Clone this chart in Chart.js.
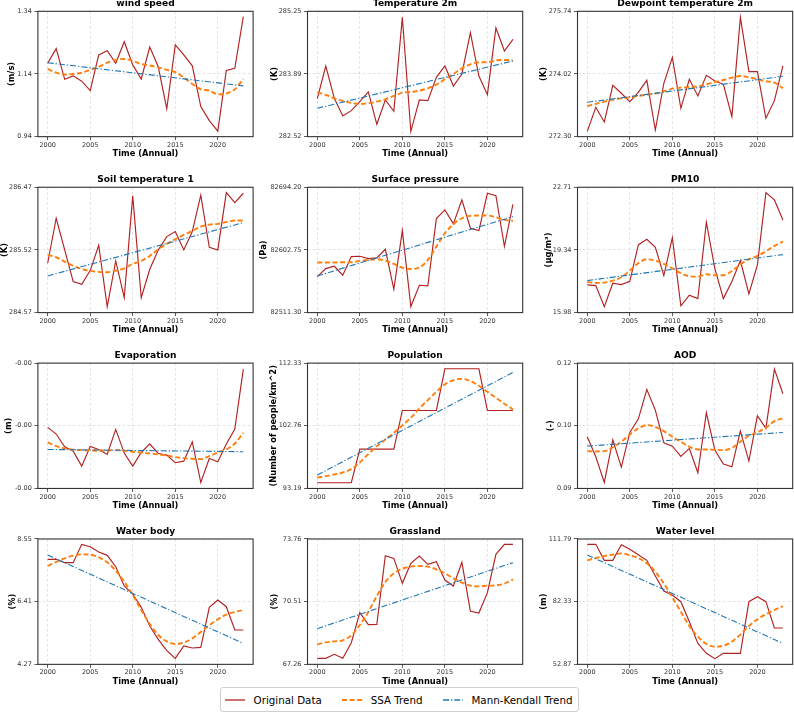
<!DOCTYPE html>
<html><head><meta charset="utf-8">
<script src="https://cdn.jsdelivr.net/npm/chart.js@4.4.0/dist/chart.umd.min.js"></script>
<style>
html,body{margin:0;padding:0;background:#fff;width:794px;height:718px;overflow:hidden;position:relative;font-family:'DejaVu Sans',sans-serif;}
canvas{position:absolute;}
#legend{position:absolute;left:220px;top:687px;width:353px;height:23px;border:1px solid #cfcfcf;border-radius:3px;background:#fff;display:flex;align-items:center;padding:0 0 0 4px;box-sizing:content-box;font-size:10.3px;color:#000;}
#legend .it{display:flex;align-items:center;margin-right:20.4px;white-space:nowrap;}
#legend .it:last-child{margin-right:0;}
#legend svg{margin-right:8.2px;}
</style></head><body>
<div id="legend"></div>
<script>
// ---------- data ----------
const years = [2000,2001,2002,2003,2004,2005,2006,2007,2008,2009,2010,2011,2012,2013,2014,2015,2016,2017,2018,2019,2020,2021,2022,2023];
const xTickValues = [2000,2005,2010,2015,2020];
const seriesNames = ['Original Data','SSA Trend','Mann-Kendall Trend'];

const windSpeed    = [1.174,1.221,1.123,1.134,1.117,1.087,1.201,1.214,1.174,1.243,1.169,1.124,1.226,1.163,1.029,1.233,1.201,1.166,1.036,0.991,0.958,1.151,1.158,1.323];
const windSpeedSSA = [1.156,1.144,1.138,1.140,1.144,1.153,1.163,1.176,1.185,1.188,1.182,1.172,1.167,1.161,1.153,1.146,1.129,1.108,1.091,1.087,1.075,1.078,1.091,1.124];
const windSpeedMK  = [1.176,1.102];
const windSpeedLim = [0.94,1.34];
const windSpeedTicks = ['0.94','1.14','1.34'];

const temp2m    = [283.348,284.059,283.355,282.970,283.086,283.282,283.493,282.789,283.319,283.072,285.119,282.636,283.319,283.304,283.812,284.059,283.624,283.885,284.785,283.841,283.435,284.887,284.386,284.640];
const temp2mSSA = [283.486,283.428,283.355,283.297,283.253,283.232,283.246,283.282,283.333,283.406,283.478,283.493,283.522,283.573,283.653,283.769,283.885,284.008,284.096,284.139,284.139,284.183,284.190,284.176];
const temp2mMK  = [283.137,284.168];
const temp2mLim = [282.52,285.25];
const temp2mTicks = ['282.52','283.89','285.25'];

const dew2m    = [272.446,273.105,272.703,273.709,273.490,273.261,273.517,273.846,272.483,273.764,274.477,273.078,273.874,273.416,273.983,273.828,273.736,272.849,275.575,274.084,274.084,272.804,273.288,274.240];
const dew2mSSA = [273.142,273.197,273.261,273.316,273.352,273.380,273.416,273.453,273.480,273.544,273.617,273.645,273.663,273.681,273.736,273.800,273.855,273.919,273.965,273.928,273.874,273.819,273.782,273.627];
const dew2mMK  = [273.242,273.956];
const dew2mLim = [272.30,275.74];
const dew2mTicks = ['272.30','274.02','275.74'];

const soilT    = [285.318,286.000,285.520,285.040,285.000,285.207,285.591,284.661,285.353,284.797,286.339,284.797,285.227,285.520,285.722,285.798,285.520,285.798,286.349,285.561,285.520,286.389,286.238,286.379];
const soilTSSA = [285.444,285.409,285.343,285.277,285.232,285.202,285.187,285.182,285.207,285.242,285.308,285.353,285.429,285.530,285.611,285.682,285.747,285.808,285.874,285.904,285.914,285.944,285.965,285.965];
const soilTMK  = [285.126,285.934];
const soilTLim = [284.57,286.47];
const soilTTicks = ['284.57','285.52','286.47'];

const pressure    = [82563.8,82575.5,82578.9,82565.8,82593.0,82593.5,82590.1,82591.1,82603.7,82545.3,82631.0,82520.1,82551.2,82550.2,82648.5,82661.1,82640.7,82675.7,82634.4,82631.0,82685.4,82682.0,82608.1,82669.4];
const pressureSSA = [82584.3,82584.3,82584.3,82584.8,82584.8,82586.7,82588.2,82589.1,82587.2,82582.3,82576.9,82575.0,82576.9,82588.2,82607.6,82627.1,82640.2,82649.0,82652.4,82652.9,82652.9,82650.4,82646.5,82645.1];
const pressureMK  = [82564.8,82651.4];
const pressureLim = [82511.30,82694.20];
const pressureTicks = ['82511.30','82602.75','82694.20'];

const pm10    = [17.466,17.430,16.302,17.555,17.484,17.662,19.613,19.918,19.488,17.967,20.007,16.338,16.911,16.732,20.831,18.343,16.732,17.645,18.772,16.982,18.539,22.424,22.030,20.956];
const pm10SSA = [17.627,17.573,17.591,17.698,17.877,18.235,18.629,18.844,18.772,18.593,18.361,18.092,17.931,17.913,18.038,17.985,17.985,18.217,18.557,18.844,19.023,19.273,19.560,19.793];
const pm10MK  = [17.698,19.094];
const pm10Lim = [15.98,22.71];
const pm10Ticks = ['15.98','19.34','22.71'];

const evap    = [-0.001113,-0.001166,-0.001268,-0.001302,-0.001422,-0.001265,-0.001289,-0.001329,-0.001129,-0.001318,-0.001422,-0.001313,-0.001244,-0.001321,-0.001334,-0.001395,-0.001382,-0.001228,-0.001552,-0.001361,-0.001387,-0.001246,-0.001127,-0.000648];
const evapSSA = [-0.001233,-0.001262,-0.001281,-0.001291,-0.001294,-0.001297,-0.001299,-0.001297,-0.001294,-0.001299,-0.001307,-0.001315,-0.001321,-0.001329,-0.001337,-0.001350,-0.001358,-0.001363,-0.001366,-0.001342,-0.001313,-0.001289,-0.001241,-0.001156];
const evapMK  = [-0.001289,-0.001307];
const evapLim = [-0.0016,-0.0006];
const evapTicks = ['-0.00','-0.00','-0.00'];

const population    = [94.06,94.06,94.06,94.06,94.06,99.20,99.20,99.20,99.20,99.20,105.10,105.10,105.10,105.10,105.10,111.46,111.46,111.46,111.46,111.46,105.10,105.10,105.10,105.10];
const populationSSA = [94.87,95.07,95.33,95.63,96.14,97.16,98.43,99.65,100.67,101.69,102.81,103.98,105.41,106.68,107.95,109.07,109.73,109.94,109.58,108.87,107.95,107.04,106.12,105.26];
const populationMK  = [95.23,110.90];
const populationLim = [93.19,112.33];
const populationTicks = ['93.19','102.76','112.33'];

const aod    = [0.10224,0.09758,0.09160,0.10154,0.09517,0.10325,0.10635,0.11326,0.10845,0.10084,0.10006,0.09766,0.09952,0.09385,0.10783,0.09913,0.09587,0.09525,0.10356,0.09657,0.10713,0.10418,0.11800,0.11226];
const aodSSA = [0.09890,0.09882,0.09890,0.09975,0.10107,0.10278,0.10418,0.10496,0.10449,0.10356,0.10224,0.10107,0.09991,0.09929,0.09929,0.09921,0.09913,0.09967,0.10107,0.10247,0.10325,0.10433,0.10589,0.10651];
const aodMK  = [0.10006,0.10325];
const aodLim = [0.0902,0.1194];
const aodTicks = ['0.09','0.10','0.12'];

const waterBody    = [7.856,7.856,7.742,7.742,8.368,8.288,8.106,7.992,7.605,6.945,6.672,6.217,5.579,5.124,4.737,4.475,4.896,4.828,4.850,6.217,6.467,6.239,5.442,5.442];
const waterBodySSA = [7.628,7.765,7.890,7.981,8.026,8.015,7.924,7.753,7.469,7.093,6.638,6.125,5.647,5.272,5.055,4.964,5.010,5.158,5.374,5.602,5.807,5.966,6.057,6.125];
const waterBodyMK  = [8.004,4.987];
const waterBodyLim = [4.27,8.55];
const waterBodyTicks = ['4.27','6.41','8.55'];

const grassland    = [67.571,67.571,67.779,67.571,68.384,69.940,69.317,69.334,72.896,72.757,71.461,72.498,72.878,72.446,72.584,71.634,71.323,72.550,70.009,69.922,70.977,72.965,73.483,73.483];
const grasslandSSA = [68.297,68.401,68.453,68.505,68.764,69.300,69.974,70.804,71.530,71.979,72.221,72.325,72.360,72.325,72.187,71.979,71.720,71.495,71.340,71.305,71.340,71.357,71.444,71.668];
const grasslandMK  = [69.110,72.533];
const grasslandLim = [67.26,73.76];
const grasslandTicks = ['67.26','70.51','73.76'];

const waterLevel    = [109.28,109.28,101.76,101.76,109.13,106.93,104.43,101.76,94.40,87.34,85.46,82.33,72.93,62.74,58.04,55.53,58.04,58.04,58.04,82.33,84.68,82.33,69.95,69.95];
const waterLevelSSA = [101.76,102.86,103.80,104.43,105.05,104.11,102.86,100.35,96.43,90.95,84.37,77.63,70.89,65.88,62.43,61.18,61.65,63.53,66.82,70.89,74.02,76.38,78.41,80.29];
const waterLevelMK  = [104.27,62.74];
const waterLevelLim = [52.87,111.79];
const waterLevelTicks = ['52.87','82.33','111.79'];

// ---------- layout / style ----------
const FONT = "'DejaVu Sans', sans-serif";
const COLS = [37.9, 307.5, 577.5];
const ROWS = [11.3, 187.25, 363.1, 539.0];
const PW = 215.2, PH = 125.35;
const YW = 52, XH = 26;
const TITLE_SIZE = 9.1, LABEL_SIZE = 8.3, TICK_SIZE = 6.5;
const COLORS = ['#b22222', '#ff7f0e', '#1f77b4'];

const panels = [
  {title:'wind speed', unit:'(m/s)', orig:windSpeed, ssa:windSpeedSSA, mk:windSpeedMK, lim:windSpeedLim, ticks:windSpeedTicks, col:0, row:0, yOff:25.9},
  {title:'Temperature 2m', unit:'(K)', orig:temp2m, ssa:temp2mSSA, mk:temp2mMK, lim:temp2mLim, ticks:temp2mTicks, col:1, row:0, yOff:32.5},
  {title:'Dewpoint temperature 2m', unit:'(K)', orig:dew2m, ssa:dew2mSSA, mk:dew2mMK, lim:dew2mLim, ticks:dew2mTicks, col:2, row:0, yOff:33.5},
  {title:'Soil temperature 1', unit:'(K)', orig:soilT, ssa:soilTSSA, mk:soilTMK, lim:soilTLim, ticks:soilTTicks, col:0, row:1, yOff:33.4},
  {title:'Surface pressure', unit:'(Pa)', orig:pressure, ssa:pressureSSA, mk:pressureMK, lim:pressureLim, ticks:pressureTicks, col:1, row:1, yOff:44},
  {title:'PM10', unit:'(\u03bcg/m\u00b3)', orig:pm10, ssa:pm10SSA, mk:pm10MK, lim:pm10Lim, ticks:pm10Ticks, col:2, row:1, yOff:28.8},
  {title:'Evaporation', unit:'(m)', orig:evap, ssa:evapSSA, mk:evapMK, lim:evapLim, ticks:evapTicks, col:0, row:2, yOff:28.6},
  {title:'Population', unit:'(Number of people/km^2)', orig:population, ssa:populationSSA, mk:populationMK, lim:populationLim, ticks:populationTicks, col:1, row:2, yOff:33.2},
  {title:'AOD', unit:'(-)', orig:aod, ssa:aodSSA, mk:aodMK, lim:aodLim, ticks:aodTicks, col:2, row:2, yOff:26.8},
  {title:'Water body', unit:'(%)', orig:waterBody, ssa:waterBodySSA, mk:waterBodyMK, lim:waterBodyLim, ticks:waterBodyTicks, col:0, row:3, yOff:25.2},
  {title:'Grassland', unit:'(%)', orig:grassland, ssa:grasslandSSA, mk:grasslandMK, lim:grasslandLim, ticks:grasslandTicks, col:1, row:3, yOff:32.2},
  {title:'Water level', unit:'(m)', orig:waterLevel, ssa:waterLevelSSA, mk:waterLevelMK, lim:waterLevelLim, ticks:waterLevelTicks, col:2, row:3, yOff:33.5}
];

const framePlugin = {
  id: 'frame',
  afterDatasetsDraw(chart) {
    const {ctx, chartArea: a} = chart;
    ctx.save();
    ctx.strokeStyle = '#333';
    ctx.lineWidth = 1.1;
    ctx.setLineDash([]);
    ctx.strokeRect(a.left, a.top, a.right - a.left, a.bottom - a.top);
    ctx.restore();
  }
};

const titleLH = TITLE_SIZE * 1.2, labelLH = LABEL_SIZE * 1.2;
const titleH = 2 + titleLH + 1.8;

panels.forEach(p => {
  const L = COLS[p.col], T = ROWS[p.row];
  const cl = Math.floor(L - YW);
  const wEff = L - cl;
  const cw = Math.ceil(wEff + PW + 4);
  const padR = cw - wEff - PW;
  const ct = Math.floor(T - titleH);
  const extraTop = (T - titleH) - ct;
  const ch = Math.ceil((T - ct) + PH + XH);
  const hEff = ch - (T - ct) - PH;

  const cv = document.createElement('canvas');
  cv.width = cw; cv.height = ch;
  cv.style.left = cl + 'px'; cv.style.top = ct + 'px';
  cv.style.width = cw + 'px'; cv.style.height = ch + 'px';
  document.body.appendChild(cv);

  const yMid = (p.lim[0] + p.lim[1]) / 2;
  new Chart(cv, {
    type: 'line',
    data: {
      datasets: [
        {label: seriesNames[0], data: years.map((x, i) => ({x, y: p.orig[i]})), borderColor: COLORS[0], borderWidth: 1.15, pointRadius: 0, tension: 0, fill: false, order: 3},
        {label: seriesNames[1], data: years.map((x, i) => ({x, y: p.ssa[i]})), borderColor: COLORS[1], borderWidth: 1.9, borderDash: [5, 2.6], pointRadius: 0, cubicInterpolationMode: 'monotone', fill: false, order: 2},
        {label: seriesNames[2], data: [{x: years[0], y: p.mk[0]}, {x: years[years.length - 1], y: p.mk[1]}], borderColor: COLORS[2], borderWidth: 1.1, borderDash: [6, 2, 1.3, 2], pointRadius: 0, tension: 0, fill: false, order: 1}
      ]
    },
    options: {
      responsive: false,
      animation: false,
      devicePixelRatio: 1,
      layout: {padding: {left: 0, top: 0, right: padR, bottom: 0}},
      plugins: {
        legend: {display: false},
        tooltip: {enabled: false},
        title: {display: true, fullSize: false, text: p.title, color: '#000',
                font: {family: FONT, size: TITLE_SIZE, weight: 'bold', lineHeight: 1.2},
                padding: {top: 2 + extraTop, bottom: 1.8}}
      },
      scales: {
        x: {
          type: 'linear', min: 1998.85, max: 2024.15,
          afterBuildTicks: s => { s.ticks = xTickValues.map(v => ({value: v})); },
          afterFit: s => { s.height = hEff; },
          ticks: {font: {family: FONT, size: TICK_SIZE}, color: '#333', padding: 1.0, maxRotation: 0, autoSkip: false, callback: v => String(v)},
          grid: {color: 'rgba(0,0,0,0.17)', lineWidth: 0.7, tickLength: 3.5, tickColor: '#333', tickWidth: 0.8, tickBorderDash: []},
          border: {display: false, dash: [2.5, 2.5]},
          title: {display: true, text: 'Time (Annual)', color: '#000', font: {family: FONT, size: LABEL_SIZE, weight: 'bold', lineHeight: 1.2}, padding: {top: 0, bottom: hEff - 17.6 - labelLH / 2}}
        },
        y: {
          type: 'linear', min: p.lim[0], max: p.lim[1],
          afterBuildTicks: s => { s.ticks = [p.lim[0], yMid, p.lim[1]].map(v => ({value: v})); },
          afterFit: s => { s.width = wEff; },
          ticks: {font: {family: FONT, size: TICK_SIZE}, color: '#333', padding: 2.6, autoSkip: false, callback: (v, i) => p.ticks[i]},
          grid: {color: 'rgba(0,0,0,0.17)', lineWidth: 0.7, tickLength: 3.5, tickColor: '#333', tickWidth: 0.8, tickBorderDash: []},
          border: {display: false, dash: [2.5, 2.5]},
          title: {display: true, text: p.unit, color: '#000', font: {family: FONT, size: LABEL_SIZE, weight: 'bold', lineHeight: 1.2}, padding: {top: wEff - p.yOff - labelLH / 2, bottom: 0}}
        }
      }
    },
    plugins: [framePlugin]
  });
});

// ---------- legend ----------
const legendStyles = [
  {color: COLORS[0], width: 1.3, dash: ''},
  {color: COLORS[1], width: 2, dash: '5 2.6'},
  {color: COLORS[2], width: 1.3, dash: '6 2 1.3 2'}
];
const lg = document.getElementById('legend');
seriesNames.forEach((name, i) => {
  const st = legendStyles[i];
  const it = document.createElement('div');
  it.className = 'it';
  it.innerHTML = '<svg width="20.4" height="10"><line x1="0" y1="5" x2="20.4" y2="5" stroke="' + st.color + '" stroke-width="' + st.width + '"' + (st.dash ? ' stroke-dasharray="' + st.dash + '"' : '') + '/></svg>';
  const sp = document.createElement('span');
  sp.textContent = name;
  it.appendChild(sp);
  lg.appendChild(it);
});
</script>
</body></html>
